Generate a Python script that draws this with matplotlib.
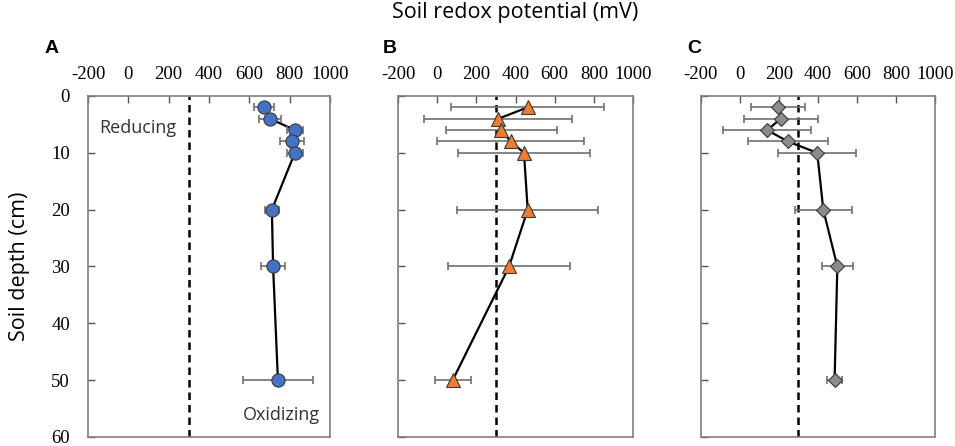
import matplotlib
matplotlib.use("Agg")
import matplotlib.pyplot as plt
import numpy as np

# soil depth (cm) for every profile
depth = [2, 4, 6, 8, 10, 20, 30, 50]

# redox potential (mV) and error bars per panel
eh_a = [673, 702, 826, 812, 826, 712, 718, 742]
err_a = [50, 55, 40, 60, 40, 35, 60, 173]
eh_b = [462, 312, 328, 375, 443, 462, 367, 79]
err_b = [390, 378, 284, 375, 338, 359, 313, 92]
eh_c = [197, 210, 141, 246, 397, 428, 500, 486]
err_c = [138, 190, 226, 205, 200, 147, 81, 39]

xticks = [-200, 0, 200, 400, 600, 800, 1000]
yticks = [0, 10, 20, 30, 40, 50, 60]
threshold = 300

sans = ["Open Sans", "DejaVu Sans"]
serif = ["Liberation Serif", "DejaVu Serif"]

plt.rcParams["font.family"] = serif
plt.rcParams["axes.unicode_minus"] = False

fig = plt.figure(figsize=(9.55, 4.46), dpi=100)

boxes = [(0.0921, 0.2534), (0.4168, 0.2461), (0.7337, 0.2453)]
panels = [
    ("A", eh_a, err_a, "o", "#4472C4", 9.5, -0.18),
    ("B", eh_b, err_b, "^", "#ED7D31", 9.5, -0.064),
    ("C", eh_c, err_c, "D", "#8C8C8C", 7.5, -0.058),
]

axes = []
for (left, width), (lab, x, e, mk, col, ms, lx) in zip(boxes, panels):
    ax = fig.add_axes([left, 0.0202, width, 0.7646])
    ax.axvline(threshold, color="black", ls=(0, (3, 2)), lw=1.8, zorder=1)
    ax.plot(x, depth, color="black", lw=1.6, zorder=2)
    ax.errorbar(x, depth, xerr=e, fmt="none", ecolor="#6f6f6f",
                elinewidth=1.2, capsize=3, capthick=1.2, zorder=3)
    ax.plot(x, depth, ls="none", marker=mk, ms=ms, mfc=col,
            mec="#3a3a3a", mew=0.8, zorder=4)
    ax.set_xlim(-200, 1000)
    ax.set_ylim(60, 0)
    ax.set_xticks(xticks)
    ax.set_yticks(yticks)
    ax.xaxis.tick_top()
    ax.tick_params(direction="in", length=5, color="#555555", width=1,
                   labelsize=13.5)
    ax.tick_params(axis="x", pad=9)
    ax.tick_params(axis="y", pad=13)
    for s in ax.spines.values():
        s.set_color("#7f7f7f")
        s.set_linewidth(1.2)
    ax.text(lx, 1.14, lab, transform=ax.transAxes,
            fontsize=14, fontweight="bold", family=["Liberation Sans"],
            ha="left", va="center")
    axes.append(ax)

axes[0].text(-145, 5.6, "Reducing", fontsize=13, family=sans,
             ha="left", va="center", color="#333333")
axes[0].text(569, 56.1, "Oxidizing", fontsize=13, family=sans,
             ha="left", va="center", color="#333333")
axes[0].set_ylabel("Soil depth (cm)", fontsize=15.5, family=sans, labelpad=15)
for ax in axes[1:]:
    ax.set_yticklabels([])

fig.text(0.539, 0.972, "Soil redox potential (mV)", fontsize=15.5,
         family=sans, ha="center", va="center")

fig.savefig("out.png", dpi=100)
